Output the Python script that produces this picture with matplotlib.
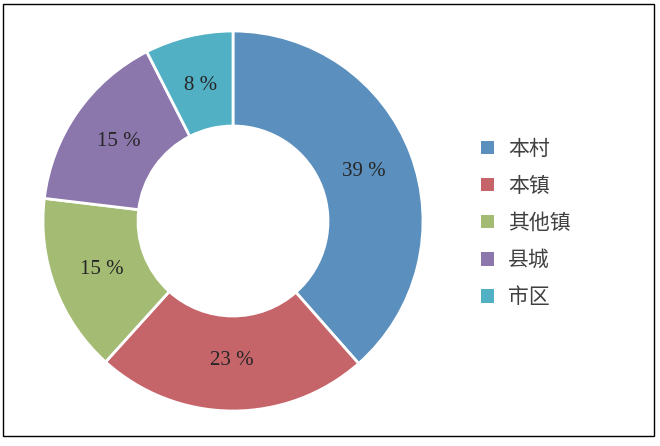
import matplotlib
matplotlib.use("Agg")
import matplotlib.pyplot as plt
from matplotlib.patches import Rectangle

# data
categories = ["本村", "本镇", "其他镇", "县城", "市区"]
shares = [38.5, 23.2, 15.2, 15.6, 7.5]
pct_labels = ["39 %", "23 %", "15 %", "15 %", "8 %"]
colors = ["#5A8FBE", "#C5656A", "#A3BB73", "#8C77AD", "#52B0C5"]

plt.rcParams['font.family'] = ['Noto Sans CJK SC', 'DejaVu Sans']

fig = plt.figure(figsize=(6.6, 4.46), dpi=100)

# outer frame
fig.patches.append(Rectangle((3 / 660, 10 / 446), 651 / 660, 432 / 446,
                             transform=fig.transFigure, fill=False,
                             edgecolor="black", linewidth=1))

# donut, center (233, 221) px, outer radius 190 px
cx, cy, r = 233, 221, 190
ax = fig.add_axes([(cx - r) / 660, (446 - cy - r) / 446, 2 * r / 660, 2 * r / 446])

wedges, texts, autotexts = ax.pie(
    shares, colors=colors, startangle=90, counterclock=False, radius=1,
    autopct="%.0f", pctdistance=0.735,
    wedgeprops=dict(width=0.5, edgecolor="white", linewidth=2))
for t, lab in zip(autotexts, pct_labels):
    t.set_text(lab)
    t.set_fontfamily("Liberation Serif")
    t.set_fontsize(15)
    t.set_color("#262626")
ax.set_xlim(-1, 1)
ax.set_ylim(-1, 1)
ax.set_aspect("equal")

leg = fig.legend(wedges, categories, loc="center left",
                 bbox_to_anchor=(481 / 660, (446 - 223) / 446),
                 frameon=False, fontsize=15, handlelength=0.62, handleheight=0.62,
                 handletextpad=0.67, labelspacing=0.73, borderpad=0, borderaxespad=0)
for t in leg.get_texts():
    t.set_color("#404040")
for h in leg.legend_handles:
    h.set_linewidth(0)

fig.savefig("out.png", dpi=100)
